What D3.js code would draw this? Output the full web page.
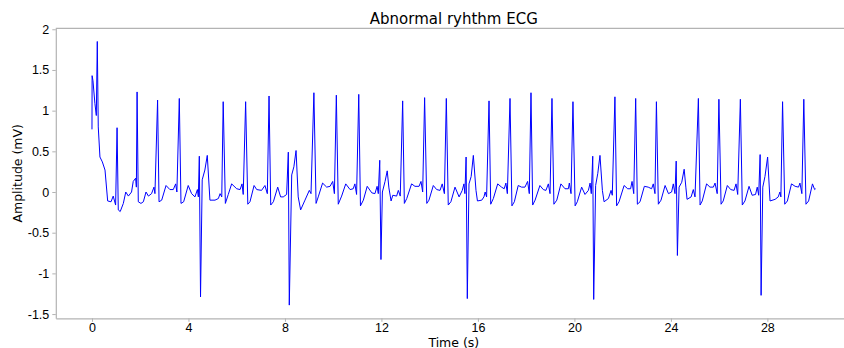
<!DOCTYPE html>
<html>
<head>
<meta charset="utf-8">
<script src="https://cdn.jsdelivr.net/npm/d3@7"></script>
<style>
  body { margin: 0; background: #fff; }
  svg { display: block; font-family: 'DejaVu Sans', sans-serif; }
</style>
</head>
<body>
<script>
// ECG trace: time in seconds, amplitude in mV
const time = [
  0.00, 0.005, 0.04, 0.12, 0.18, 0.22, 0.26, 0.33, 0.43, 0.54, 0.65, 0.79, 0.88, 0.98,
  1.04, 1.09, 1.17, 1.30, 1.40, 1.51, 1.64, 1.71, 1.81, 1.84, 1.87, 1.92, 2.03, 2.13,
  2.24, 2.34, 2.47, 2.57, 2.61, 2.72, 2.78, 2.89, 3.07, 3.23, 3.37, 3.47, 3.52, 3.62,
  3.69, 3.80, 3.99, 4.13, 4.27, 4.37, 4.41, 4.45, 4.50, 4.57, 4.68, 4.78, 4.89, 5.10,
  5.24, 5.31, 5.38, 5.44, 5.53, 5.65, 5.79, 6.00, 6.14, 6.22, 6.27, 6.37, 6.46, 6.55,
  6.72, 6.83, 7.03, 7.17, 7.27, 7.34, 7.41, 7.52, 7.70, 7.82, 7.93, 8.07, 8.14, 8.18,
  8.28, 8.37, 8.46, 8.55, 8.65, 8.83, 9.01, 9.08, 9.20, 9.29, 9.38, 9.56, 9.73, 9.87,
  9.98, 10.05, 10.13, 10.21, 10.35, 10.52, 10.70, 10.83, 10.90, 10.97, 11.06, 11.13,
  11.25, 11.41, 11.60, 11.73, 11.82, 11.87, 11.93, 11.98, 12.04, 12.15, 12.24, 12.31,
  12.40, 12.47, 12.63, 12.70, 12.78, 12.88, 12.95, 13.05, 13.25, 13.39, 13.56, 13.64,
  13.71, 13.79, 13.88, 13.97, 14.15, 14.29, 14.43, 14.52, 14.61, 14.69, 14.77, 14.88,
  15.05, 15.22, 15.35, 15.42, 15.46, 15.51, 15.56, 15.63, 15.72, 15.81, 15.92, 15.98,
  16.16, 16.25, 16.30, 16.36, 16.46, 16.53, 16.64, 16.82, 16.98, 17.09, 17.16, 17.22,
  17.33, 17.41, 17.51, 17.67, 17.81, 17.95, 18.06, 18.13, 18.20, 18.27, 18.37, 18.57,
  18.71, 18.82, 18.92, 18.99, 19.07, 19.15, 19.27, 19.44, 19.61, 19.75, 19.79, 19.86,
  19.94, 20.03, 20.12, 20.30, 20.44, 20.58, 20.65, 20.70, 20.76, 20.80, 20.88, 20.97,
  21.06, 21.16, 21.23, 21.41, 21.52, 21.57, 21.68, 21.75, 21.85, 22.06, 22.21, 22.33,
  22.39, 22.46, 22.54, 22.61, 22.72, 22.90, 23.06, 23.20, 23.27, 23.34, 23.40, 23.48,
  23.59, 23.76, 23.90, 24.03, 24.10, 24.17, 24.22, 24.27, 24.34, 24.45, 24.55, 24.62,
  24.67, 24.84, 24.93, 25.00, 25.14, 25.21, 25.30, 25.48, 25.62, 25.76, 25.83, 25.92,
  25.99, 26.08, 26.17, 26.34, 26.48, 26.62, 26.70, 26.77, 26.88, 26.96, 27.07, 27.24,
  27.37, 27.51, 27.58, 27.64, 27.70, 27.74, 27.81, 27.90, 28.01, 28.11, 28.32, 28.45,
  28.52, 28.56, 28.63, 28.72, 28.83, 29.00, 29.15, 29.29, 29.35, 29.43, 29.51, 29.60,
  29.71, 29.87, 29.96, 30.00
]
const amplitude = [
  0.77, 1.43, 1.37, 1.09, 0.94, 1.85, 0.80, 0.43, 0.37, 0.27, -0.11, -0.12, -0.05, -0.16,
  0.79, -0.22, -0.24, -0.14, 0.00, -0.05, 0.00, 0.13, 0.17, 0.06, 1.23, -0.12, -0.14, -0.12,
  0.00, -0.05, -0.02, 0.06, -0.02, 1.13, -0.12, -0.10, 0.08, 0.03, 0.03, 0.10, 0.00, 1.15,
  -0.14, -0.12, 0.08, -0.02, -0.06, 0.03, -0.06, 0.44, -1.29, 0.15, 0.27, 0.45, -0.10, -0.10,
  -0.08, -0.02, -0.06, 1.11, -0.14, -0.03, 0.10, 0.04, 0.03, 0.10, -0.03, 1.11, -0.15, -0.12,
  0.08, 0.03, 0.02, 0.08, -0.02, 1.18, -0.16, -0.12, 0.06, -0.06, -0.06, -0.03, 0.49, -1.39,
  0.21, 0.31, 0.51, -0.06, -0.22, -0.10, 0.02, -0.02, 1.22, -0.14, -0.06, 0.11, 0.06, 0.07,
  0.13, -0.02, 1.19, -0.15, -0.05, 0.10, 0.03, 0.04, 0.10, -0.03, 1.20, -0.17,
  -0.10, 0.07, -0.01, -0.02, 0.07, -0.02, 0.39, -0.83, 0.00, 0.13, 0.26, 0.05,
  -0.11, -0.04, -0.05, 0.02, -0.05, 1.12, -0.14, -0.08, 0.10, 0.07, 0.07, 0.13,
  0.00, 1.16, -0.14, -0.10, 0.08, 0.03, 0.02, 0.10, -0.02, 1.15, -0.16, -0.12,
  0.06, -0.06, 0.02, 0.10, -0.02, 0.43, -1.31, 0.10, 0.19, 0.45, 0.02, -0.11,
  -0.10, -0.06, 0.00, -0.06, 1.12, -0.15, -0.08, 0.10, 0.06, 0.04, 0.11, -0.02,
  1.15, -0.17, -0.12, 0.08, 0.06, 0.06, 0.13, -0.02, 1.22, -0.16, -0.10, 0.08,
  0.03, 0.02, 0.10, -0.02, 1.15, -0.15, -0.10, 0.10, 0.04, 0.04, 0.11, -0.02,
  1.11, -0.17, -0.12, 0.06, -0.03, 0.02, 0.11, -0.02, 0.44, -1.32, 0.08, 0.23,
  0.45, 0.02, -0.12, -0.08, 0.02, -0.04, 1.17, -0.17, -0.12, 0.08, 0.04, 0.04,
  0.13, -0.02, 1.15, -0.15, -0.12, 0.07, 0.06, 0.04, 0.10, -0.02, 1.11, -0.15,
  -0.10, 0.08, -0.02, 0.00, 0.10, -0.02, 0.38, -0.78, 0.06, 0.12, 0.28, 0.06,
  -0.09, -0.06, 0.03, -0.06, 1.15, -0.16, -0.11, 0.10, 0.06, 0.06, 0.11, -0.02,
  1.14, -0.15, -0.11, 0.08, 0.03, 0.02, 0.10, -0.03, 1.14, -0.16, -0.11, 0.07,
  -0.04, -0.03, 0.06, -0.04, 0.46, -1.27, 0.06, 0.19, 0.43, -0.11, -0.09, -0.06,
  0.00, -0.06, 1.11, -0.15, -0.11, 0.10, 0.07, 0.06, 0.11, -0.02, 1.14, -0.15,
  -0.11, 0.10, 0.03, 0.04
]
const xTicks = [0, 4, 8, 12, 16, 20, 24, 28]
const yTicks = [-1.5, -1, -0.5, 0, 0.5, 1, 1.5, 2]

const width = 844
const height = 348
const plotLeft = 55.8, plotRight = 851.8, plotTop = 28.3, plotBottom = 318.3
const spineColor = '#b3b3b3'

const data = time.map((t, i) => ({ t, v: amplitude[i] }))

// matplotlib-like 5% margins around the data
const pad = (lo, hi) => [lo - (hi - lo) * 0.05, hi + (hi - lo) * 0.05]
const x = d3.scaleLinear().domain(pad(...d3.extent(time))).range([plotLeft, plotRight])
const y = d3.scaleLinear().domain(pad(...d3.extent(amplitude))).range([plotBottom, plotTop])

const svg = d3.select('body').append('svg')
  .attr('width', width)
  .attr('height', height)

svg.append('path')
  .datum(data)
  .attr('fill', 'none')
  .attr('stroke', '#0000ff')
  .attr('stroke-width', 1)
  .attr('stroke-linejoin', 'round')
  .attr('d', d3.line().x(d => x(d.t)).y(d => y(d.v)))

const xAxis = svg.append('g')
  .attr('transform', `translate(0, ${plotBottom})`)
  .call(d3.axisBottom(x).tickValues(xTicks).tickFormat(d => String(d)).tickSize(3.5).tickPadding(1).tickSizeOuter(0))

const yAxis = svg.append('g')
  .attr('transform', `translate(${plotLeft}, 0)`)
  .call(d3.axisLeft(y).tickValues(yTicks).tickFormat(d => String(d)).tickSize(3.5).tickPadding(3).tickSizeOuter(0))

;[xAxis, yAxis].forEach(g => {
  g.select('.domain').attr('stroke', spineColor).attr('stroke-width', 1.2)
  g.selectAll('.tick line').attr('stroke', spineColor)
  g.selectAll('.tick text').attr('fill', '#000').style('font-size', '12.5px')
})

// top spine
svg.append('line')
  .attr('x1', plotLeft).attr('x2', plotRight)
  .attr('y1', plotTop).attr('y2', plotTop)
  .attr('stroke', spineColor)
  .attr('stroke-width', 1.2)

svg.append('text')
  .attr('x', (plotLeft + plotRight) / 2)
  .attr('y', 24)
  .attr('text-anchor', 'middle')
  .style('font-size', '15px')
  .text('Abnormal ryhthm ECG')

svg.append('text')
  .attr('x', (plotLeft + plotRight) / 2)
  .attr('y', 346.5)
  .attr('text-anchor', 'middle')
  .style('font-size', '12.5px')
  .text('Time (s)')

svg.append('text')
  .attr('transform', `translate(22, ${(plotTop + plotBottom) / 2}) rotate(-90)`)
  .attr('text-anchor', 'middle')
  .style('font-size', '12.5px')
  .text('Amplitude (mV)')
</script>
</body>
</html>
